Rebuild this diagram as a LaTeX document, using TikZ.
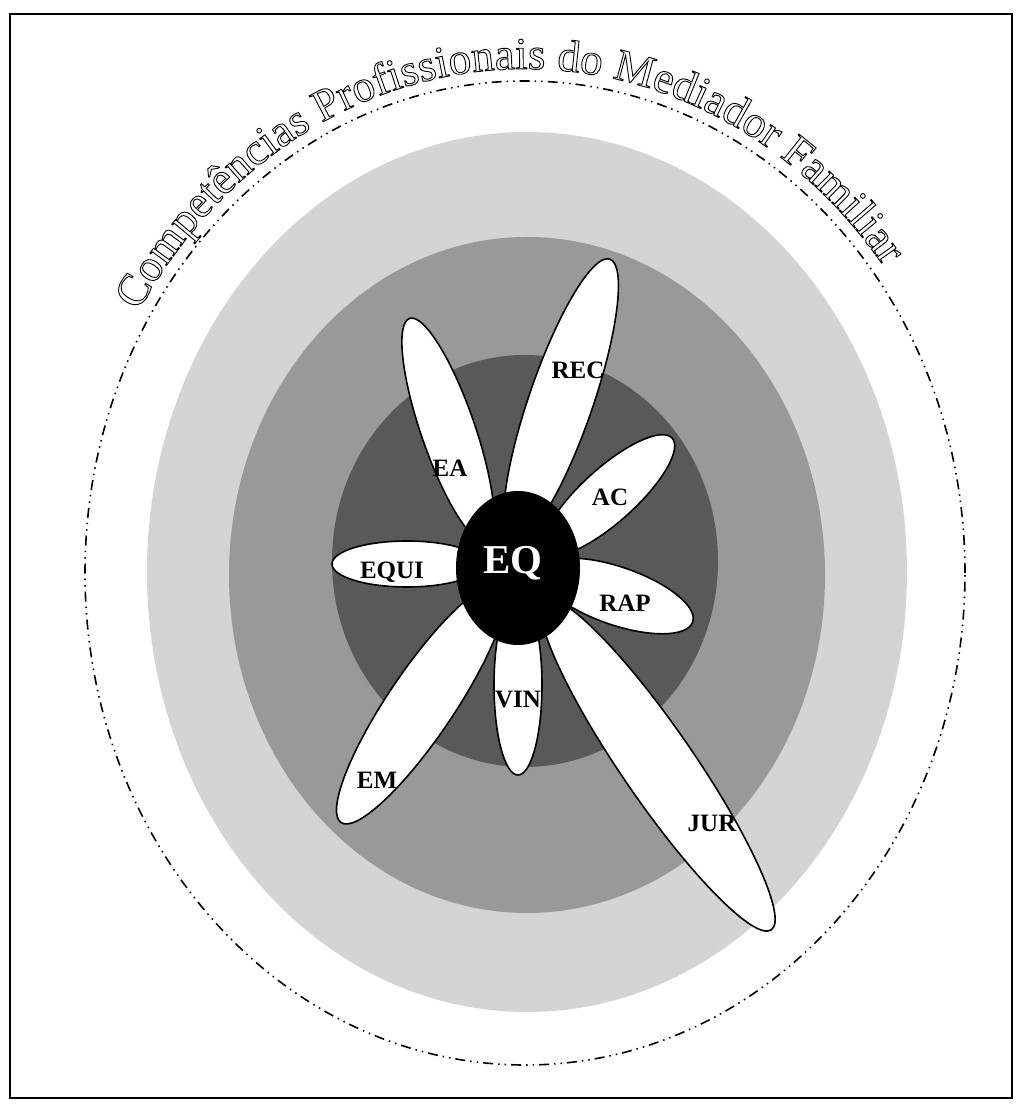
\documentclass[tikz,border=0pt]{standalone}
\usepackage{fontspec}
\setmainfont{Liberation Serif}
\usetikzlibrary{decorations.text}
\newcommand\outlinemode{\special{pdf:literal direct 1 Tr 0.9 w}}
\newcommand\titlefont{\outlinemode\fontsize{45}{50}\selectfont}
\begin{document}
\begin{tikzpicture}[x=1pt,y=1pt,
  petal/.style={draw=black, line width=1.6pt, fill=white},
  lbl/.style={font=\bfseries\fontsize{25}{30}\selectfont, inner sep=0pt},
  dashdot/.style={line width=1.6pt, dash pattern=on 10pt off 5pt on 1.5pt off 5pt on 1.5pt off 5pt},
]
\useasboundingbox (0,0) rectangle (1023,1113);
\draw[line width=2.5pt] (10,15) rectangle (1012,1099);
% rings
\draw[dashdot] (525,540) ellipse[x radius=440, y radius=492];
\fill[black!17] (527,541) ellipse[x radius=380, y radius=440];
\fill[black!40] (527,538) ellipse[x radius=298, y radius=338];
\fill[black!65] (525,552) ellipse[x radius=193, y radius=206];
% title
\path[decorate, decoration={text along path,
   text={|\titlefont|Competências Profissionais do Mediador Familiar},
   text align=center}]
  (525,540) ++(172:452 and 504) arc[start angle=172, end angle=14, x radius=452, y radius=504];
% long petals
\draw[petal, rotate around={71:(561,712)}] (561,712) ellipse[x radius=150, y radius=32];
\draw[petal, rotate around={-55.5:(658,348)}] (658,348) ellipse[x radius=200, y radius=36];
\draw[petal, rotate around={236:(421,409)}] (421,409) ellipse[x radius=143, y radius=33];
% short petals
\draw[petal, rotate around={109:(448,683)}] (448,683) ellipse[x radius=118, y radius=27];
\draw[petal, rotate around={42:(609,618)}] (609,618) ellipse[x radius=85, y radius=27];
\draw[petal, rotate around={-19:(617,517)}] (617,517) ellipse[x radius=80, y radius=29];
\draw[petal] (407,549) ellipse[x radius=75, y radius=23];
\draw[petal] (518,428) ellipse[x radius=24, y radius=90];
% centre
\fill[black] (518,545) ellipse[x radius=62, y radius=77];
\node[font=\bfseries\fontsize{41}{48}\selectfont, text=white, inner sep=0pt] (eq) at (513,550) {EQ};
% labels
\node[lbl] (rec) at (578,743) {REC};
\node[lbl] (ea) at (450,645) {EA};
\node[lbl] (ac) at (610,616) {AC};
\node[lbl] (equi) at (392,541) {EQUI};
\node[lbl] (rap) at (625,510) {RAP};
\node[lbl] (vin) at (518,413) {VIN};
\node[lbl] (em) at (377,333) {EM};
\node[lbl] (jur) at (712,290) {JUR};
\end{tikzpicture}
\end{document}
